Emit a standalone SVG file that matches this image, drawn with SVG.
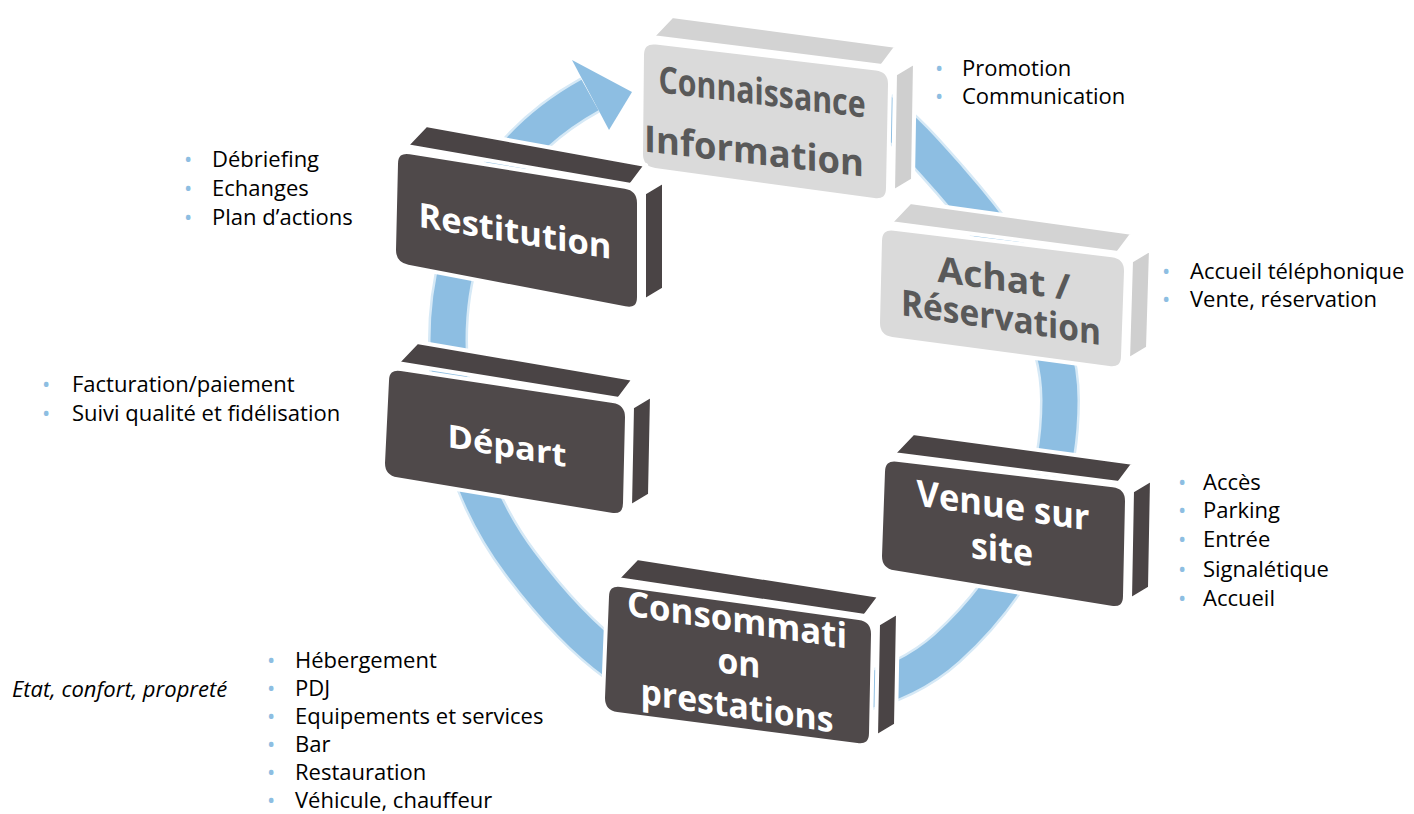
<svg xmlns="http://www.w3.org/2000/svg" width="1414" height="814" viewBox="0 0 1414 814">
<style>
.bg{fill:#ffffff}
.face{stroke:#ffffff;stroke-width:4;stroke-linejoin:round}
.dk{fill:#4f494a}
.dkt{fill:#4a4445}
.lt{fill:#dadada}
.ltt{fill:#d3d3d3}
.lts{fill:#cfcfcf}
.bt{font-family:"Open Sans","Liberation Sans",sans-serif;font-weight:700;text-anchor:middle}
.wt{fill:#ffffff}
.gt{fill:#595959}
.li{font-family:"Open Sans","Liberation Sans",sans-serif;font-size:22px;fill:#000000}
.bu{font-family:"Open Sans","Liberation Sans",sans-serif;font-size:22px;fill:#8dbee2}
.ring-edge{fill:none;stroke:#d6e9f6;stroke-width:40}
.ring{fill:none;stroke:#8dbee2;stroke-width:35}
</style>
<rect class="bg" x="0" y="0" width="1414" height="814"/>

<g id="connectors">
  <path class="ring-edge" d="M 880,110 C 906.4,129.8 928.2,155.3 950,180 C 1004,241.5 1060,318 1060,400 C 1060,498 1019.5,582.3 947,648 C 891.5,698 815,705 740,705 C 645,705 577,639 520,563 C 472,499 448,420 448,340 C 448,235 498,145.7 590,95"/>
  <path class="ring" d="M 880,110 C 906.4,129.8 928.2,155.3 950,180 C 1004,241.5 1060,318 1060,400 C 1060,498 1019.5,582.3 947,648 C 891.5,698 815,705 740,705 C 645,705 577,639 520,563 C 472,499 448,420 448,340 C 448,235 498,145.7 590,95"/>
  <polygon points="572,60 632,92 609,130" fill="#8dbee2"/>
</g>

<g id="node-connaissance">
  <polygon class="face ltt" points="652,37 882,66 897,46 672,16"/>
  <polygon class="face lts" points="895,74 915,62 913,180 893,192"/>
  <path class="face lt" d="M 656,42.6 L 876,68.4 Q 890,70 890,84 L 888,188 Q 888,202 874,200.1 L 655,169.9 Q 641,168 641,154 L 642,55 Q 642,41 656,42.6 Z"/>
  <text class="bt gt" font-size="37" textLength="207" lengthAdjust="spacingAndGlyphs" transform="translate(762,105) skewY(7)">Connaissance</text>
  <text class="bt gt" font-size="37" textLength="220" lengthAdjust="spacingAndGlyphs" transform="translate(754,164) skewY(6.5)">Information</text>
</g>

<g id="node-achat">
  <polygon class="face ltt" points="890,223 1118,253 1133,233 910,202"/>
  <polygon class="face lts" points="1131,261 1151,249 1148,348 1128,360"/>
  <path class="face lt" d="M 894,228.7 L 1112,255.3 Q 1126,257 1126,271 L 1123,356 Q 1123,370 1109,368.1 L 892,338.9 Q 878,337 878,323 L 880,241 Q 880,227 894,228.7 Z"/>
  <text class="bt gt" font-size="36" textLength="133" lengthAdjust="spacingAndGlyphs" transform="translate(1004,291) skewY(8)">Achat /</text>
  <text class="bt gt" font-size="36" textLength="200" lengthAdjust="spacingAndGlyphs" transform="translate(1001,330) skewY(8.5)">Réservation</text>
</g>

<g id="node-venue">
  <polygon class="face dkt" points="893,454 1119,483 1134,463 913,433"/>
  <polygon class="face dkt" points="1132,491 1152,479 1150,588 1130,600"/>
  <path class="face dk" d="M 897,459.7 L 1113,485.3 Q 1127,487 1127,501 L 1125,596 Q 1125,610 1111,607.7 L 894,572.3 Q 880,570 880,556 L 883,472 Q 883,458 897,459.7 Z"/>
  <text class="bt wt" font-size="36" textLength="173" lengthAdjust="spacingAndGlyphs" transform="translate(1003,518) skewY(8.3)">Venue sur</text>
  <text class="bt wt" font-size="36" textLength="62" lengthAdjust="spacingAndGlyphs" transform="translate(1002,562) skewY(8)">site</text>
</g>

<g id="node-consommation">
  <polygon class="face dkt" points="617,579 865,616 880,596 637,558"/>
  <polygon class="face dkt" points="878,624 898,612 896,725 876,737"/>
  <path class="face dk" d="M 621,584.9 L 859,618.1 Q 873,620 873,634 L 871,733 Q 871,747 857,744.9 L 617,714.1 Q 603,712 603,698 L 607,597 Q 607,583 621,584.9 Z"/>
  <text class="bt wt" font-size="35" textLength="220" lengthAdjust="spacingAndGlyphs" transform="translate(737,632) skewY(8.5)">Consommati</text>
  <text class="bt wt" font-size="35" textLength="43" lengthAdjust="spacingAndGlyphs" transform="translate(739,675) skewY(8)">on</text>
  <text class="bt wt" font-size="35" textLength="193" lengthAdjust="spacingAndGlyphs" transform="translate(737,718) skewY(8.5)">prestations</text>
</g>

<g id="node-depart">
  <polygon class="face dkt" points="397,363 619,399 634,379 417,342"/>
  <polygon class="face dkt" points="632,407 652,395 650,495 630,507"/>
  <path class="face dk" d="M 401,369.1 L 613,400.9 Q 627,403 627,417 L 625,503 Q 625,517 611,514.7 L 397,479.3 Q 383,477 383,463 L 387,381 Q 387,367 401,369.1 Z"/>
  <text class="bt wt" font-size="32" textLength="119" lengthAdjust="spacingAndGlyphs" transform="translate(507,457) skewY(9.5)">Départ</text>
</g>

<g id="node-restitution">
  <polygon class="face dkt" points="406,146 631,185 646,165 426,125"/>
  <polygon class="face dkt" points="644,193 664,181 664,289 644,301"/>
  <path class="face dk" d="M 410,152.2 L 625,186.8 Q 639,189 639,203 L 639,297 Q 639,311 625,308.3 L 408,266.7 Q 394,264 394,250 L 396,164 Q 396,150 410,152.2 Z"/>
  <text class="bt wt" font-size="34" textLength="193" lengthAdjust="spacingAndGlyphs" transform="translate(515,243) skewY(9.5)">Restitution</text>
</g>

<g id="list-connaissance">
  <text class="bu" x="935" y="76">•</text><text class="li" x="962" y="76">Promotion</text>
  <text class="bu" x="935" y="104">•</text><text class="li" x="962" y="104">Communication</text>
</g>
<g id="list-restitution">
  <text class="bu" x="184" y="167">•</text><text class="li" x="212" y="167">Débriefing</text>
  <text class="bu" x="184" y="196">•</text><text class="li" x="212" y="196">Echanges</text>
  <text class="bu" x="184" y="225">•</text><text class="li" x="212" y="225">Plan d’actions</text>
</g>
<g id="list-achat">
  <text class="bu" x="1162" y="279">•</text><text class="li" x="1190" y="279">Accueil téléphonique</text>
  <text class="bu" x="1162" y="307">•</text><text class="li" x="1190" y="307">Vente, réservation</text>
</g>
<g id="list-depart">
  <text class="bu" x="42" y="392">•</text><text class="li" x="72" y="392">Facturation/paiement</text>
  <text class="bu" x="42" y="421">•</text><text class="li" x="72" y="421">Suivi qualité et fidélisation</text>
</g>
<g id="list-venue">
  <text class="bu" x="1178" y="490">•</text><text class="li" x="1203" y="490">Accès</text>
  <text class="bu" x="1178" y="518">•</text><text class="li" x="1203" y="518">Parking</text>
  <text class="bu" x="1178" y="547">•</text><text class="li" x="1203" y="547">Entrée</text>
  <text class="bu" x="1178" y="577">•</text><text class="li" x="1203" y="577">Signalétique</text>
  <text class="bu" x="1178" y="606">•</text><text class="li" x="1203" y="606">Accueil</text>
</g>
<g id="list-consommation">
  <text class="li" x="12" y="697" font-style="italic">Etat, confort, propreté</text>
  <text class="bu" x="267" y="668">•</text><text class="li" x="295" y="668">Hébergement</text>
  <text class="bu" x="267" y="696">•</text><text class="li" x="295" y="696">PDJ</text>
  <text class="bu" x="267" y="724">•</text><text class="li" x="295" y="724">Equipements et services</text>
  <text class="bu" x="267" y="752">•</text><text class="li" x="295" y="752">Bar</text>
  <text class="bu" x="267" y="780">•</text><text class="li" x="295" y="780">Restauration</text>
  <text class="bu" x="267" y="808">•</text><text class="li" x="295" y="808">Véhicule, chauffeur</text>
</g>
</svg>
